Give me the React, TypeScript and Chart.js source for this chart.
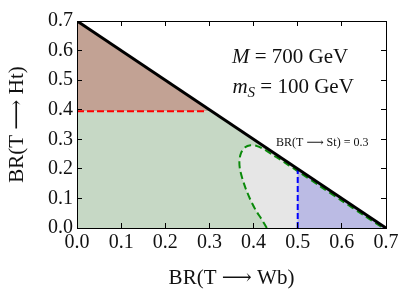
import React, { useEffect, useRef } from "react";
import { Chart, registerables } from "chart.js";

Chart.register(...registerables);

// ---- axis ranges / labels ----
const X_MIN = 0;
const X_MAX = 0.7;
const Y_MIN = 0;
const Y_MAX = 0.7;
const TICK_STEP = 0.1;
const xTitle = "BR(T \u27F6 Wb)";
const yTitle = "BR(T \u27F6 Ht)";

// ---- data (x, y) ----
const diagonal = [[0, 0.7], [0.7, 0]];
const redLine = [[0, 0.395], [0.293, 0.395]];
const brownRegion = [[0, 0.395], [0, 0.7], [0.305, 0.395]];
const greenRegion = [[0, 0], [0, 0.395], [0.305, 0.395], [0.7, 0]];
const contourLeft = [
  [0.43, 0.0], [0.418, 0.03], [0.405, 0.06], [0.393, 0.095], [0.383, 0.13],
  [0.375, 0.165], [0.369, 0.2], [0.368, 0.23], [0.372, 0.255], [0.38, 0.272],
  [0.393, 0.28], [0.408, 0.277], [0.425, 0.265], [0.442, 0.248], [0.46, 0.232],
  [0.48, 0.212], [0.5, 0.192],
];
const contourRight = [[0.55, 0.142], [0.6, 0.092], [0.65, 0.043], [0.69, 0.004], [0.7, 0]];
const greyCorner = [[0.5, 0]];
const blueLine = [[0.5, 0], [0.5, 0.198]];
const blueRegion = [[0.5, 0], [0.5, 0.2], [0.7, 0]];

// ---- annotation texts ----
const massLine = { italic: "M", rest: " = 700 GeV" };
const scalarLine = { italic: "m", sub: "S", rest: " = 100 GeV" };
const brLabel = "BR(T \u27F6 St) = 0.3";
const massPos = [0.351, 0.559];
const scalarPos = [0.352, 0.458];
const brPos = [0.451, 0.278];

const FONT = "'Liberation Serif', 'DejaVu Serif', serif";
const pts = (a: number[][]) => a.map(([x, y]) => ({ x, y }));

const textPlugin = {
  id: "annotText",
  afterDatasetsDraw(chart: any) {
    const { ctx, scales } = chart;
    const px = (v: number) => scales.x.getPixelForValue(v);
    const py = (v: number) => scales.y.getPixelForValue(v);
    ctx.save();
    ctx.fillStyle = "#111";
    ctx.textBaseline = "alphabetic";
    ctx.textAlign = "left";
    // line 1
    let x = px(massPos[0]);
    let y = py(massPos[1]);
    ctx.font = `italic 21px ${FONT}`;
    ctx.fillText(massLine.italic, x, y);
    x += ctx.measureText(massLine.italic).width;
    ctx.font = `21px ${FONT}`;
    ctx.fillText(massLine.rest, x, y);
    // line 2
    x = px(scalarPos[0]);
    y = py(scalarPos[1]);
    ctx.font = `italic 21px ${FONT}`;
    ctx.fillText(scalarLine.italic, x, y);
    x += ctx.measureText(scalarLine.italic).width;
    ctx.font = `italic 15px ${FONT}`;
    ctx.fillText(scalarLine.sub, x, y + 4);
    x += ctx.measureText(scalarLine.sub).width;
    ctx.font = `21px ${FONT}`;
    ctx.fillText(scalarLine.rest, x, y);
    // BR label
    ctx.font = `12px ${FONT}`;
    ctx.fillText(brLabel, px(brPos[0]), py(brPos[1]));
    ctx.restore();
  },
};

export default function App() {
  const ref = useRef<HTMLCanvasElement | null>(null);
  useEffect(() => {
    if (!ref.current) return;
    const tickFont = { family: FONT, size: 20 };
    const grid = {
      display: true,
      drawOnChartArea: false,
      drawTicks: true,
      tickLength: -5,
      color: "#000",
      lineWidth: 1,
      z: 1,
    };
    const border = { display: true, color: "#000", width: 1, z: 1 };
    const common = { type: "linear", min: X_MIN, max: X_MAX };
    const chart = new Chart(ref.current, {
      type: "scatter",
      data: {
        datasets: [
          { data: pts(diagonal), showLine: true, borderColor: "#000", borderWidth: 3, pointRadius: 0, fill: false },
          { data: pts(blueLine), showLine: true, borderColor: "#0000ff", borderWidth: 2, borderDash: [6, 3], pointRadius: 0, fill: false },
          { data: pts(redLine), showLine: true, borderColor: "#ff0000", borderWidth: 2, borderDash: [7, 3], pointRadius: 0, fill: false },
          { data: pts([...contourLeft, ...contourRight]), showLine: true, borderColor: "#0a8a0a", borderWidth: 2, borderDash: [7, 4], pointRadius: 0, fill: false, tension: 0.3 },
          { data: pts(blueRegion), showLine: true, borderWidth: 0, backgroundColor: "#bbbbe4", pointRadius: 0, fill: "shape" },
          { data: pts([...contourLeft, ...greyCorner]), showLine: true, borderWidth: 0, backgroundColor: "#e6e6e6", pointRadius: 0, fill: "shape" },
          { data: pts(greenRegion), showLine: true, borderWidth: 0, backgroundColor: "#c6d8c5", pointRadius: 0, fill: "shape" },
          { data: pts(brownRegion), showLine: true, borderWidth: 0, backgroundColor: "#c2a294", pointRadius: 0, fill: "shape" },
        ],
      },
      options: {
        animation: false,
        responsive: false,
        devicePixelRatio: 1,
        events: [],
        layout: { padding: 0 },
        plugins: { legend: { display: false }, tooltip: { enabled: false } },
        scales: {
          x: {
            ...common,
            position: "bottom",
            grid,
            border,
            ticks: { stepSize: TICK_STEP, font: tickFont, color: "#111", padding: 8, maxRotation: 0, callback: (v: any) => Number(v).toFixed(1) },
            title: { display: true, text: xTitle, font: { family: FONT, size: 21 }, color: "#111", padding: { top: 0, bottom: 9 } },
            afterFit: (s: any) => { s.height = 72; },
          },
          x2: {
            ...common,
            position: "top",
            grid,
            border,
            ticks: { stepSize: TICK_STEP, display: false },
            afterFit: (s: any) => { s.height = 19; },
          },
          y: {
            type: "linear",
            min: Y_MIN,
            max: Y_MAX,
            position: "left",
            grid,
            border,
            ticks: { stepSize: TICK_STEP, font: tickFont, color: "#111", padding: 9, callback: (v: any) => Number(v).toFixed(1) },
            title: { display: true, text: yTitle, font: { family: FONT, size: 21 }, color: "#111", padding: { top: 5, bottom: 0 } },
            afterFit: (s: any) => { s.width = 77; },
          },
          y2: {
            type: "linear",
            min: Y_MIN,
            max: Y_MAX,
            position: "right",
            grid,
            border,
            ticks: { stepSize: TICK_STEP, display: false },
            afterFit: (s: any) => { s.width = 21; },
          },
        },
      } as any,
      plugins: [textPlugin],
    } as any);
    return () => chart.destroy();
  }, []);
  return (
    <div style={{ position: "absolute", left: 0, top: 0, width: 407, height: 300, background: "#fff" }}>
      <canvas ref={ref} width={407} height={300} />
    </div>
  );
}
